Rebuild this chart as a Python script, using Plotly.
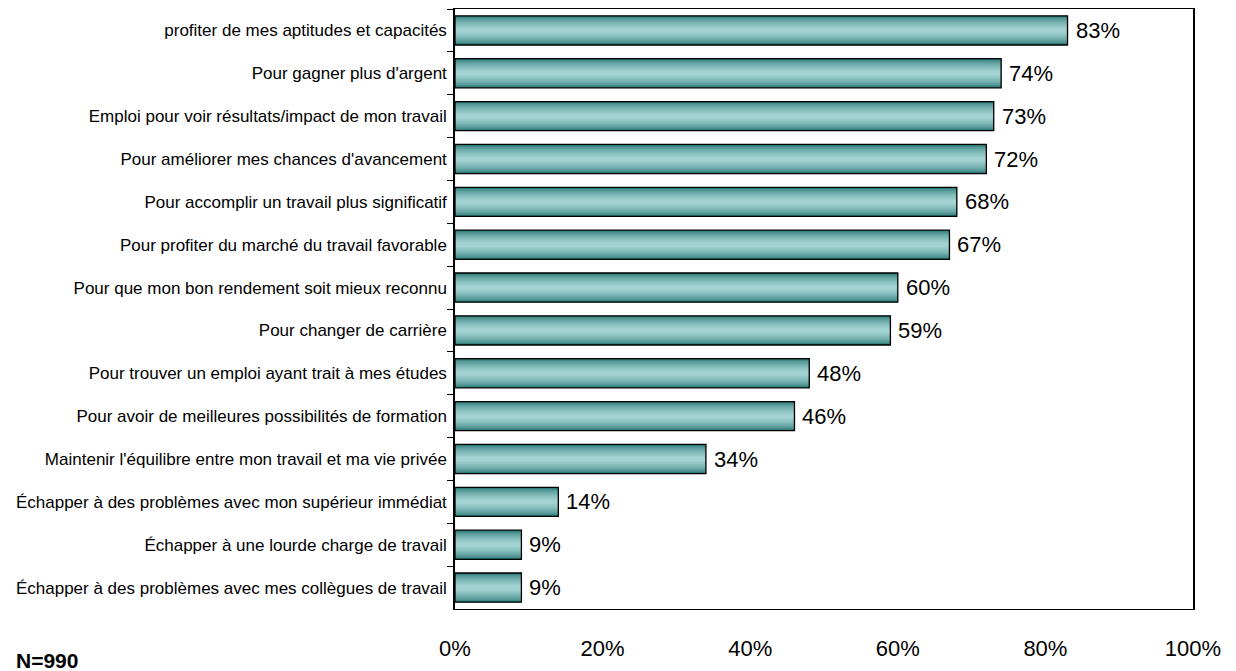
import plotly.graph_objects as go

categories = [
    "profiter de mes aptitudes et capacités",
    "Pour gagner plus d'argent",
    "Emploi pour voir résultats/impact de mon travail",
    "Pour améliorer mes chances d'avancement",
    "Pour accomplir un travail plus significatif",
    "Pour profiter du marché du travail favorable",
    "Pour que mon bon rendement soit mieux reconnu",
    "Pour changer de carrière",
    "Pour trouver un emploi ayant trait à mes études",
    "Pour avoir de meilleures possibilités de formation",
    "Maintenir l'équilibre entre mon travail et ma vie privée",
    "Échapper à des problèmes avec mon supérieur immédiat",
    "Échapper à une lourde charge de travail",
    "Échapper à des problèmes avec mes collègues de travail",
]
values = [0.83, 0.74, 0.73, 0.72, 0.68, 0.67, 0.60, 0.59, 0.48, 0.46, 0.34, 0.14, 0.09, 0.09]
value_labels = ["83%", "74%", "73%", "72%", "68%", "67%", "60%", "59%", "48%", "46%", "34%", "14%", "9%", "9%"]
tick_vals = [0, 0.2, 0.4, 0.6, 0.8, 1.0]
tick_text = ["0%", "20%", "40%", "60%", "80%", "100%"]

W, H = 1236, 671
ML, MR, MT, MB = 455, 43, 9, 62
PW, PH = W - ML - MR, H - MT - MB

fig = go.Figure()

# gradient simulation: stacked overlaid bars, outer dark -> inner light
dark = (30, 112, 110)
light = (162, 210, 210)
n_layers = 12
outer_w = 0.68
for i in range(n_layers):
    t = i / (n_layers - 1)
    f = t ** 0.55
    col = tuple(int(dark[k] + (light[k] - dark[k]) * f) for k in range(3))
    w = outer_w * (1 - 0.85 * t)
    fig.add_trace(go.Bar(
        y=categories, x=values, orientation="h", width=w,
        marker=dict(color="rgb(%d,%d,%d)" % col, line=dict(width=0)),
        hoverinfo="skip", showlegend=False,
    ))

# outline
fig.add_trace(go.Bar(
    y=categories, x=values, orientation="h", width=outer_w,
    marker=dict(color="rgba(0,0,0,0)", line=dict(color="black", width=1.3)),
    showlegend=False,
))

# value labels
for cat, v, lab in zip(categories, values, value_labels):
    fig.add_annotation(
        x=v, y=cat, xref="x", yref="y", text=lab, showarrow=False,
        xanchor="left", yanchor="middle", xshift=6,
        font=dict(family="Liberation Sans, Arial, sans-serif", size=22, color="black"),
    )

fig.add_annotation(
    text="<b>N=990</b>", xref="paper", yref="paper",
    x=(14 - ML) / PW, y=(H - MB - 660) / PH,
    xanchor="left", yanchor="middle", showarrow=False,
    font=dict(size=21, family="Liberation Sans, Arial, sans-serif", color="black"),
)

fig.update_layout(
    barmode="overlay",
    width=W, height=H,
    margin=dict(l=ML, r=MR, t=MT, b=MB, autoexpand=False),
    paper_bgcolor="white", plot_bgcolor="white",
    font=dict(family="Liberation Sans, Arial, sans-serif", color="black"),
    xaxis=dict(
        range=[0, 1], tickvals=tick_vals, ticktext=tick_text,
        tickfont=dict(size=22, family="Liberation Sans, Arial, sans-serif"),
        showgrid=False, zeroline=False, showline=True, linecolor="black",
        linewidth=1, mirror=True, ticks="", ticklabelstandoff=20,
        automargin=False,
    ),
    yaxis=dict(
        autorange="reversed", type="category",
        tickfont=dict(size=17, family="Liberation Sans, Arial, sans-serif"),
        showgrid=False, zeroline=False, showline=True, linecolor="black",
        linewidth=1.5, mirror=True, ticks="outside", ticklen=6, tickcolor="black",
        tickson="boundaries", ticklabelstandoff=3, automargin=False,
    ),
)

fig.write_html(
    "out.html",
    config={"displayModeBar": False},
    post_script="document.body.style.margin='0';document.body.style.overflow='hidden';",
)
